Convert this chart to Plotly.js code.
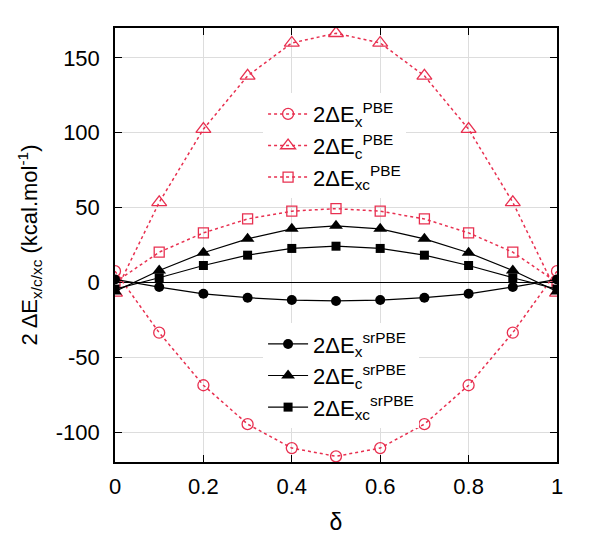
<!DOCTYPE html>
<html>
<head>
<meta charset="utf-8">
<script src="https://cdn.plot.ly/plotly-3.0.1.min.js"></script>
<style>
  body { margin: 0; background: #fff; }
  #chart { width: 598px; height: 538px; }
</style>
</head>
<body>
<div id="chart"></div>
<script>
// delta values and energies (kcal/mol)
const delta = [0, 0.1, 0.2, 0.3, 0.4, 0.5, 0.6, 0.7, 0.8, 0.9, 1];
const pbeX  = [7.5, -33.6, -68.7, -94.7, -110.7, -116.2, -110.7, -94.7, -68.7, -33.6, 7.5];
const pbeC  = [-7, 53.5, 102.4, 138, 160, 166.5, 160, 138, 102.4, 53.5, -7];
const pbeXC = [0, 20.2, 33.1, 42.4, 47.6, 49.3, 47.6, 42.4, 33.1, 20.2, 0];
const srX   = [2, -3.1, -7.6, -10.2, -11.8, -12.4, -11.8, -10.2, -7.6, -3.1, 2];
const srC   = [-6, 8, 19.8, 29.1, 35.8, 37.8, 35.8, 29.1, 19.8, 8, -6];
const srXC  = [-4.5, 3.1, 11.3, 18.2, 22.7, 24.2, 22.7, 18.2, 11.3, 3.1, -4.5];

const xTicks = [0, 0.2, 0.4, 0.6, 0.8, 1];
const yTicks = [-100, -50, 0, 50, 100, 150];
const yTickText = ['-100', '-50', '0', '50', '100', '150'];

const red = 'rgb(232,48,80)';
const font = 'Liberation Sans, Arial, sans-serif';

function pbeTrace(y, sym, name, size) {
    return {
        x: delta, y: y, name: name, type: 'scatter', mode: 'lines+markers',
        line: { color: red, width: 1.5, dash: 'dot' },
        marker: { symbol: sym, size: size, color: red, line: { color: red, width: 1.3 } },
        legend: 'legend'
    };
}
function srTrace(y, sym, name, size) {
    return {
        x: delta, y: y, name: name, type: 'scatter', mode: 'lines+markers',
        line: { color: 'black', width: 1.2 },
        marker: { symbol: sym, size: size, color: 'black' },
        legend: 'legend2'
    };
}

const traces = [
    pbeTrace(pbeX, 'circle-open', '2ΔE<sub>x</sub><sup>PBE</sup>', 11),
    pbeTrace(pbeC, 'triangle-up-open', '2ΔE<sub>c</sub><sup>PBE</sup>', 13),
    pbeTrace(pbeXC, 'square-open', '2ΔE<sub>xc</sub><sup>PBE</sup>', 10),
    srTrace(srX, 'circle', '2ΔE<sub>x</sub><sup>srPBE</sup>', 10),
    srTrace(srC, 'triangle-up', '2ΔE<sub>c</sub><sup>srPBE</sup>', 12),
    srTrace(srXC, 'square', '2ΔE<sub>xc</sub><sup>srPBE</sup>', 9)
];

const layout = {
    width: 598, height: 538,
    margin: { l: 115, r: 41, t: 28, b: 76 },
    paper_bgcolor: 'white', plot_bgcolor: 'white',
    font: { family: font, size: 22, color: 'black' },
    xaxis: {
        range: [0, 1], tickvals: xTicks,
        showline: true, linecolor: 'black', linewidth: 1.5, mirror: 'ticks',
        ticks: 'inside', ticklen: 7, tickcolor: 'black', ticklabelstandoff: 4,
        showgrid: true, gridcolor: '#dddddd', zeroline: false,
        title: { text: 'δ', font: { size: 23 }, standoff: 16 }
    },
    yaxis: {
        range: [-120, 170], tickvals: yTicks, ticktext: yTickText,
        showline: true, linecolor: 'black', linewidth: 1.5, mirror: 'ticks',
        ticks: 'inside', ticklen: 7, tickcolor: 'black', ticklabelstandoff: 9,
        showgrid: true, gridcolor: '#dddddd',
        zeroline: true, zerolinecolor: 'black', zerolinewidth: 1,
        title: { text: '2 ΔE<sub>x/c/xc</sub> (kcal.mol<sup>-1</sup>)', font: { size: 22 }, standoff: 12 }
    },
    legend: {
        x: 0.335, y: 0.85, xanchor: 'left', yanchor: 'top', itemwidth: 40,
        bgcolor: 'white', borderwidth: 0, font: { size: 22 }
    },
    legend2: {
        x: 0.335, y: 0.32, xanchor: 'left', yanchor: 'top', itemwidth: 40,
        bgcolor: 'white', borderwidth: 0, font: { size: 22 }
    },
    showlegend: true
};

Plotly.newPlot('chart', traces, layout, { displayModeBar: false });
</script>
</body>
</html>
